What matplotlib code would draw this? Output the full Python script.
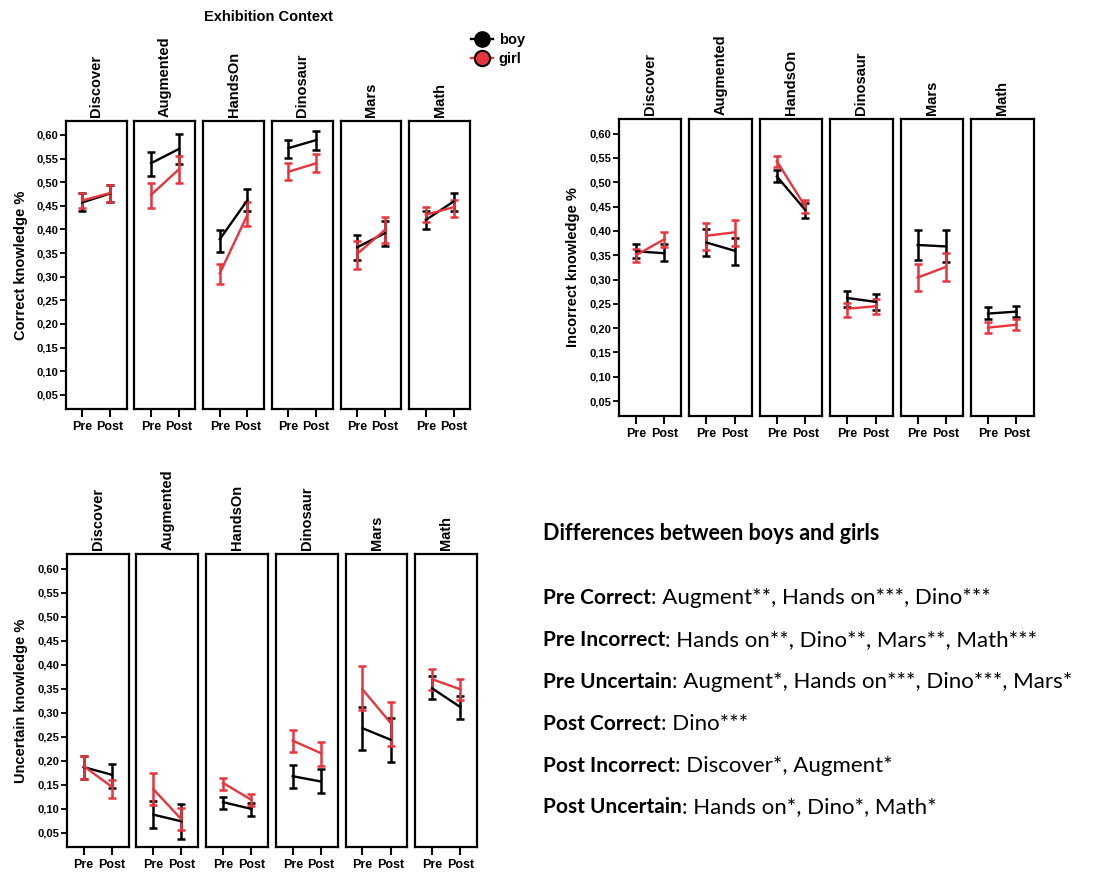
import numpy as np
import matplotlib
matplotlib.use('Agg')
import matplotlib.pyplot as plt
from matplotlib.lines import Line2D

W, H = 1099, 872

contexts = ["Discover", "Augmented", "HandsOn", "Dinosaur", "Mars", "Math"]
tick_values = [0.05, 0.10, 0.15, 0.20, 0.25, 0.30, 0.35, 0.40, 0.45, 0.50, 0.55, 0.60]
tick_labels = ["0,05", "0,10", "0,15", "0,20", "0,25", "0,30",
               "0,35", "0,40", "0,45", "0,50", "0,55", "0,60"]

# (pre, post) per context: mean, lower and upper bound of the error bar
correct_boy_mean = [(0.457, 0.476), (0.540, 0.570), (0.379, 0.462), (0.572, 0.589), (0.362, 0.392), (0.420, 0.459)]
correct_boy_lo = [(0.438, 0.458), (0.512, 0.539), (0.353, 0.438), (0.551, 0.568), (0.336, 0.364), (0.401, 0.439)]
correct_boy_hi = [(0.476, 0.494), (0.564, 0.602), (0.399, 0.485), (0.589, 0.608), (0.388, 0.418), (0.438, 0.477)]
correct_girl_mean = [(0.461, 0.477), (0.473, 0.527), (0.307, 0.431), (0.522, 0.540), (0.348, 0.399), (0.431, 0.447)]
correct_girl_lo = [(0.445, 0.459), (0.445, 0.498), (0.285, 0.407), (0.505, 0.521), (0.316, 0.371), (0.415, 0.427)]
correct_girl_hi = [(0.477, 0.494), (0.499, 0.556), (0.326, 0.457), (0.540, 0.560), (0.376, 0.426), (0.448, 0.462)]

incorrect_boy_mean = [(0.358, 0.354), (0.376, 0.359), (0.512, 0.443), (0.262, 0.254), (0.371, 0.368), (0.230, 0.234)]
incorrect_boy_lo = [(0.344, 0.338), (0.349, 0.330), (0.500, 0.427), (0.244, 0.238), (0.340, 0.335), (0.218, 0.223)]
incorrect_boy_hi = [(0.374, 0.374), (0.403, 0.385), (0.526, 0.458), (0.277, 0.270), (0.402, 0.402), (0.244, 0.245)]
incorrect_girl_mean = [(0.350, 0.383), (0.390, 0.397), (0.543, 0.450), (0.240, 0.245), (0.304, 0.326), (0.201, 0.207)]
incorrect_girl_lo = [(0.335, 0.366), (0.361, 0.369), (0.531, 0.436), (0.223, 0.229), (0.277, 0.297), (0.189, 0.196)]
incorrect_girl_hi = [(0.362, 0.397), (0.417, 0.423), (0.553, 0.464), (0.252, 0.259), (0.332, 0.354), (0.213, 0.218)]

uncertain_boy_mean = [(0.187, 0.171), (0.088, 0.074), (0.114, 0.100), (0.168, 0.157), (0.268, 0.244), (0.351, 0.312)]
uncertain_boy_lo = [(0.162, 0.143), (0.060, 0.037), (0.100, 0.086), (0.143, 0.133), (0.222, 0.197), (0.328, 0.287)]
uncertain_boy_hi = [(0.211, 0.194), (0.116, 0.110), (0.125, 0.112), (0.192, 0.183), (0.313, 0.290), (0.376, 0.336)]
uncertain_girl_mean = [(0.189, 0.146), (0.141, 0.078), (0.154, 0.119), (0.242, 0.216), (0.349, 0.279), (0.370, 0.349)]
uncertain_girl_lo = [(0.163, 0.123), (0.109, 0.057), (0.140, 0.105), (0.218, 0.190), (0.305, 0.231), (0.348, 0.327)]
uncertain_girl_hi = [(0.211, 0.161), (0.175, 0.102), (0.164, 0.132), (0.265, 0.240), (0.398, 0.322), (0.391, 0.370)]

notes_title = "Differences between boys and girls"
notes_heads = ["Pre Correct", "Pre Incorrect", "Pre Uncertain",
               "Post Correct", "Post Incorrect", "Post Uncertain"]
notes_body = [": Augment**, Hands on***, Dino***",
              ": Hands on**, Dino**, Mars**, Math***",
              ": Augment*, Hands on***, Dino***, Mars*",
              ": Dino***",
              ": Discover*, Augment*",
              ": Hands on*, Dino*, Math*"]

BOY = "#000000"
GIRL = "#e8343c"
PLOT_FONT = "Liberation Sans"
NOTE_FONT = "Lato"

fig = plt.figure(figsize=(W / 100, H / 100), dpi=100)


def px_axes(x0, top, w, h):
    return fig.add_axes([x0 / W, 1 - (top + h) / H, w / W, h / H])


def draw_panel(x0, step, w, top, bottom, ylabel, ylabel_x, series):
    for i, ctx in enumerate(contexts):
        ax = px_axes(x0 + i * step, top, w, bottom - top)
        for color, mean, lo, hi in series:
            m = np.array(mean[i])
            err = [m - np.array(lo[i]), np.array(hi[i]) - m]
            ax.errorbar([0, 1], m, yerr=err, color=color, lw=1.7,
                        elinewidth=1.8, capsize=3, capthick=1.8)
        ax.set_xlim(-0.6, 1.6)
        ax.set_ylim(0.02, 0.63)
        for s in ax.spines.values():
            s.set_linewidth(1.6)
        ax.set_xticks([0, 1])
        ax.set_xticklabels(["Pre", "Post"], fontsize=9, fontweight="bold",
                           family=PLOT_FONT)
        ax.tick_params(axis="x", direction="out", length=5.5, width=1.5, pad=3)
        if i == 0:
            ax.set_yticks(tick_values)
            ax.set_yticklabels(tick_labels, fontsize=8, fontweight="bold",
                               family=PLOT_FONT)
            ax.tick_params(axis="y", direction="out", length=4.5, width=1.3, pad=1)
        else:
            ax.set_yticks([])
        ax.annotate(ctx, xy=(0.5, 1), xycoords="axes fraction", xytext=(0, 3),
                    textcoords="offset points", rotation=90, ha="center",
                    va="bottom", fontsize=10.5, fontweight="bold", family=PLOT_FONT)
    fig.text(ylabel_x / W, 1 - (top + bottom) / 2 / H, ylabel, rotation=90,
             ha="center", va="center", fontsize=10.5, fontweight="bold",
             family=PLOT_FONT)


draw_panel(65.7, 68.7, 61, 120.7, 409, "Correct knowledge %", 21,
           [(BOY, correct_boy_mean, correct_boy_lo, correct_boy_hi),
            (GIRL, correct_girl_mean, correct_girl_lo, correct_girl_hi)])
draw_panel(619, 70.4, 62.5, 119, 415.7, "Incorrect knowledge %", 573,
           [(BOY, incorrect_boy_mean, incorrect_boy_lo, incorrect_boy_hi),
            (GIRL, incorrect_girl_mean, incorrect_girl_lo, incorrect_girl_hi)])
draw_panel(66.7, 69.7, 62, 554.3, 847.3, "Uncertain knowledge %", 21,
           [(BOY, uncertain_boy_mean, uncertain_boy_lo, uncertain_boy_hi),
            (GIRL, uncertain_girl_mean, uncertain_girl_lo, uncertain_girl_hi)])

fig.text(268 / W, 1 - 17 / H, "Exhibition Context", ha="center", va="center",
         fontsize=10.5, fontweight="bold", family=PLOT_FONT)

handles = [Line2D([], [], color=BOY, lw=1.7, marker="o", markersize=11,
                  markerfacecolor=BOY, markeredgecolor="black"),
           Line2D([], [], color=GIRL, lw=1.7, marker="o", markersize=11,
                  markerfacecolor=GIRL, markeredgecolor="black", markeredgewidth=1.5)]
fig.legend(handles, ["boy", "girl"], loc="upper left",
           bbox_to_anchor=(471 / W, 1 - 33 / H), frameon=False, numpoints=1,
           handlelength=1.5, handletextpad=0.4, labelspacing=0.35, borderpad=0,
           borderaxespad=0, prop={"family": PLOT_FONT, "weight": "bold", "size": 10.5})

# notes block on the right
tax = fig.add_axes([0, 0, 1, 1])
tax.axis("off")
tax.set_xlim(0, W)
tax.set_ylim(H, 0)
tax.text(543, 540, notes_title, ha="left", va="baseline", fontsize=15.5,
         fontweight="bold", family=NOTE_FONT)
for k, (head, body) in enumerate(zip(notes_heads, notes_body)):
    y = 604.3 + k * 41.8
    t = tax.text(543, y, head, ha="left", va="baseline", fontsize=15,
                 fontweight="bold", family=NOTE_FONT)
    tax.annotate(body, xy=(1, 0), xycoords=t, ha="left", va="bottom",
                 fontsize=16, family=NOTE_FONT)

fig.savefig("out.png", dpi=100)
